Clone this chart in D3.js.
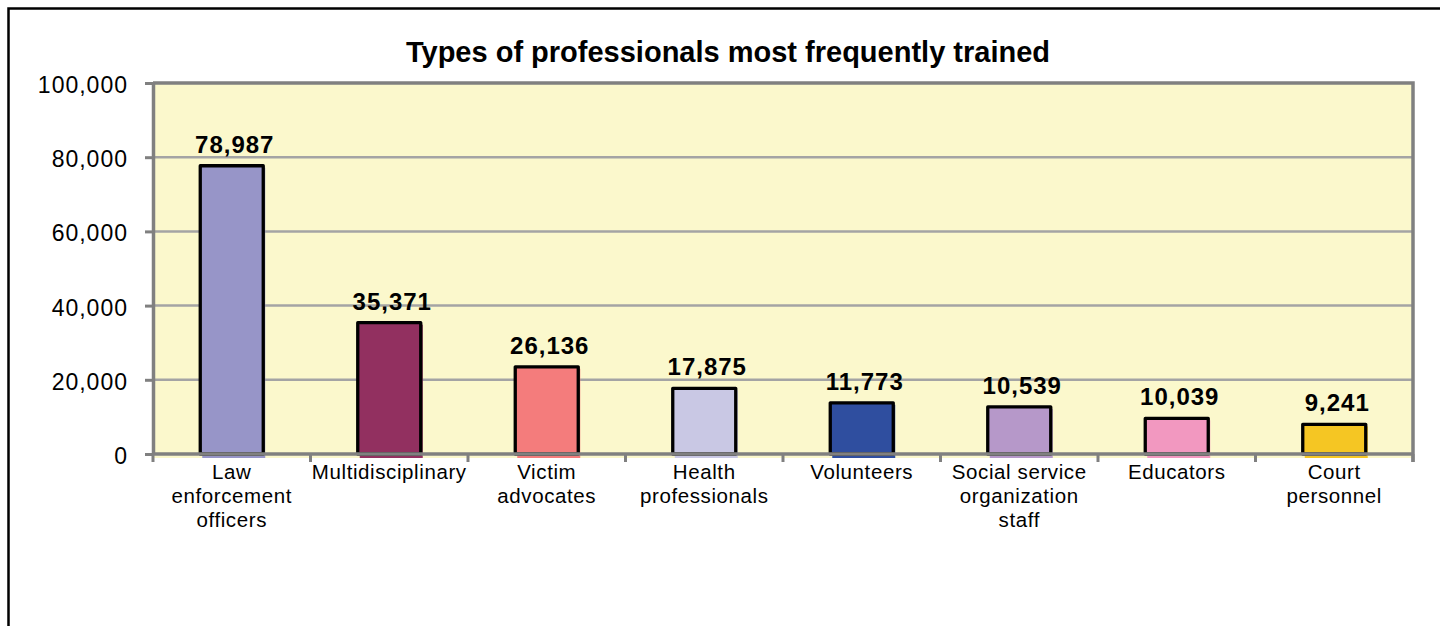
<!DOCTYPE html>
<html>
<head>
<meta charset="utf-8">
<script src="https://cdn.jsdelivr.net/npm/d3@7"></script>
<style>
  body { margin: 0; background: #fff; }
  svg { display: block; font-family: Arial, "Liberation Sans", sans-serif; }
  .tick-label { font-size: 23px; letter-spacing: 1px; fill: #000; }
  .cat-label { font-size: 20.5px; letter-spacing: 0.6px; fill: #000; }
  .value-label { font-size: 24px; letter-spacing: 1px; font-weight: bold; fill: #000; }
  .title { font-size: 29px; font-weight: bold; fill: #000; }
</style>
</head>
<body>
<svg id="chart" width="1440" height="626"></svg>
<script>
// chart data
const categories = [
  ["Law", "enforcement", "officers"],
  ["Multidisciplinary"],
  ["Victim", "advocates"],
  ["Health", "professionals"],
  ["Volunteers"],
  ["Social service", "organization", "staff"],
  ["Educators"],
  ["Court", "personnel"]
];
// bar heights as drawn
const barValues = [77700, 35400, 23500, 17700, 13800, 12700, 9600, 8000];
// numbers printed above the bars
const labelValues = [78987, 35371, 26136, 17875, 11773, 10539, 10039, 9241];
const barColors = ["#9795c8", "#923060", "#f47c7c", "#c9c8e4", "#2f4e9f", "#b698c9", "#f298c0", "#f5c623"];
const yTicks = [0, 20000, 40000, 60000, 80000, 100000];
const titleText = "Types of professionals most frequently trained";

const plot = { left: 153, right: 1413, top: 83, bottom: 454 };

document.addEventListener('DOMContentLoaded', function () {
  const svg = d3.select('#chart');

  // outer frame of the chart
  svg.append('rect')
    .attr('x', 8.5).attr('y', 8.5)
    .attr('width', 1460).attr('height', 700)
    .attr('fill', 'none')
    .attr('stroke', '#000')
    .attr('stroke-width', 2.5);

  const x = d3.scaleBand()
    .domain(d3.range(categories.length))
    .range([plot.left, plot.right])
    .paddingInner(0.6)
    .paddingOuter(0.3);

  const y = d3.scaleLinear()
    .domain([0, 100000])
    .range([plot.bottom, plot.top]);

  // plot background
  svg.append('rect')
    .attr('x', plot.left).attr('y', plot.top)
    .attr('width', plot.right - plot.left)
    .attr('height', plot.bottom - plot.top + 4)
    .attr('fill', '#fbf8cc');

  // gridlines
  svg.append('g')
    .selectAll('line')
    .data(yTicks.filter(d => d > 0 && d < 100000))
    .join('line')
    .attr('x1', plot.left).attr('x2', plot.right)
    .attr('y1', d => y(d)).attr('y2', d => y(d))
    .attr('stroke', '#a4a4a4')
    .attr('stroke-width', 2.5);

  // bars: a slightly shifted fill underneath, then the outlined bar
  const bars = svg.append('g');
  bars.selectAll('rect.shadow')
    .data(barValues)
    .join('rect')
    .attr('class', 'shadow')
    .attr('x', (d, i) => x(i) + 2)
    .attr('y', d => y(d) + 2)
    .attr('width', x.bandwidth())
    .attr('height', d => y(0) - y(d) + 2)
    .attr('fill', (d, i) => barColors[i]);

  bars.selectAll('rect.bar')
    .data(barValues)
    .join('rect')
    .attr('class', 'bar')
    .attr('x', (d, i) => x(i))
    .attr('y', d => y(d))
    .attr('width', x.bandwidth())
    .attr('height', d => y(0) - y(d))
    .attr('fill', (d, i) => barColors[i])
    .attr('stroke', '#000')
    .attr('stroke-width', 3.3)
    .attr('stroke-linejoin', 'round');

  // plot frame top and right
  svg.append('path')
    .attr('d', `M${plot.left},${plot.top} H${plot.right} V${plot.bottom + 8}`)
    .attr('fill', 'none')
    .attr('stroke', '#808080')
    .attr('stroke-width', 3.5);

  // y axis
  const yAxis = svg.append('g')
    .attr('transform', `translate(${plot.left},0)`)
    .call(d3.axisLeft(y).tickValues(yTicks).tickSize(8).tickSizeOuter(0).tickFormat(''));
  yAxis.select('.domain').attr('stroke', '#808080').attr('stroke-width', 3.5);
  yAxis.selectAll('.tick line').attr('stroke', '#808080').attr('stroke-width', 3);

  svg.append('g')
    .selectAll('text')
    .data(yTicks)
    .join('text')
    .attr('class', 'tick-label')
    .attr('text-anchor', 'end')
    .attr('x', 128)
    .attr('y', d => y(d) + 10)
    .text(d => d3.format(',')(d));

  // x axis with ticks at the category boundaries
  const xAxis = svg.append('g');
  xAxis.append('line')
    .attr('x1', plot.left).attr('x2', plot.right)
    .attr('y1', y(0)).attr('y2', y(0))
    .attr('stroke', '#808080')
    .attr('stroke-width', 3.5);
  xAxis.selectAll('line.tick')
    .data(d3.range(categories.length + 1))
    .join('line')
    .attr('class', 'tick')
    .attr('x1', i => plot.left + i * x.step())
    .attr('x2', i => plot.left + i * x.step())
    .attr('y1', y(0)).attr('y2', y(0) + 8)
    .attr('stroke', '#808080')
    .attr('stroke-width', 3);

  // category labels
  const catText = svg.append('g')
    .selectAll('text')
    .data(categories)
    .join('text')
    .attr('class', 'cat-label')
    .attr('text-anchor', 'middle')
    .attr('x', (d, i) => x(i) + x.bandwidth() / 2)
    .attr('y', 479);
  catText.selectAll('tspan')
    .data(d => d)
    .join('tspan')
    .attr('x', function () { return d3.select(this.parentNode).attr('x'); })
    .attr('dy', (d, j) => j === 0 ? 0 : 24)
    .text(d => d);

  // value labels
  svg.append('g')
    .selectAll('text')
    .data(labelValues)
    .join('text')
    .attr('class', 'value-label')
    .attr('text-anchor', 'middle')
    .attr('x', (d, i) => x(i) + x.bandwidth() / 2 + 3)
    .attr('y', (d, i) => y(barValues[i]) - 13)
    .text(d => d3.format(',')(d));

  // title
  svg.append('text')
    .attr('class', 'title')
    .attr('text-anchor', 'middle')
    .attr('x', 728)
    .attr('y', 62)
    .text(titleText);
});
</script>
</body>
</html>
